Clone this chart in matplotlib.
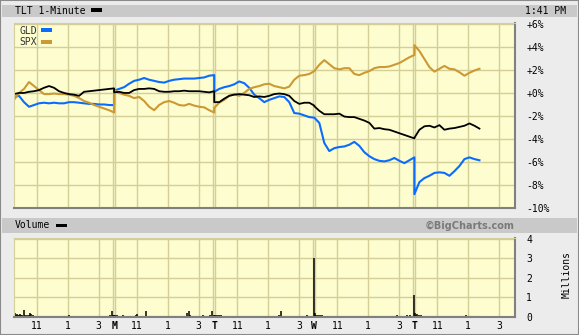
import numpy as np
import matplotlib.pyplot as plt
from matplotlib.patches import Rectangle

# percent change, sampled every 19.5 trading minutes, last value of each full day = close
tlt_fri = [-0.1, 0.0, 0.0, 0.1, 0.15, 0.25, 0.45, 0.6, 0.45, 0.15, 0.0, -0.1, -0.15, -0.25, 0.1, 0.15, 0.2, 0.25, 0.3, 0.35, 0.4]
gld_fri = [-0.35, -0.25, -0.8, -1.2, -1.05, -0.9, -0.85, -0.9, -0.85, -0.9, -0.9, -0.8, -0.8, -0.85, -0.9, -0.95, -0.95, -1.0, -1.0, -1.05, -1.05]
spx_fri = [-0.6, 0.0, 0.35, 0.95, 0.6, 0.25, -0.1, -0.1, -0.05, -0.1, -0.1, -0.15, -0.25, -0.45, -0.7, -0.85, -1.05, -1.2, -1.35, -1.5, -1.7]

tlt_mon = [0.05, 0.1, 0.0, 0.0, 0.25, 0.35, 0.35, 0.4, 0.35, 0.15, 0.1, 0.1, 0.15, 0.15, 0.2, 0.15, 0.15, 0.15, 0.1, 0.05, 0.15]
gld_mon = [0.2, 0.35, 0.5, 0.8, 1.05, 1.15, 1.3, 1.15, 1.05, 0.95, 0.9, 1.05, 1.15, 1.2, 1.25, 1.25, 1.25, 1.3, 1.35, 1.5, 1.55]
spx_mon = [0.25, 0.0, -0.15, -0.25, -0.45, -0.35, -0.7, -1.2, -1.5, -1.05, -0.8, -0.7, -0.85, -1.05, -1.1, -0.95, -1.1, -1.2, -1.25, -1.5, -1.7]

tlt_tue = [-0.8, -0.8, -0.5, -0.25, -0.15, -0.1, -0.15, -0.2, -0.35, -0.3, -0.35, -0.25, -0.1, -0.05, -0.1, -0.25, -0.7, -0.95, -0.85, -0.85, -1.1]
gld_tue = [0.1, 0.35, 0.5, 0.6, 0.75, 1.0, 0.85, 0.45, -0.15, -0.45, -0.8, -0.6, -0.45, -0.3, -0.35, -0.8, -1.75, -1.8, -1.95, -2.1, -2.15]
spx_tue = [-1.3, -0.85, -0.6, -0.25, -0.1, -0.25, 0.0, 0.35, 0.5, 0.6, 0.75, 0.8, 0.6, 0.5, 0.4, 0.55, 1.15, 1.5, 1.55, 1.65, 1.9]

tlt_wed = [-1.15, -1.55, -1.85, -1.85, -1.85, -1.8, -2.05, -2.1, -2.1, -2.25, -2.4, -2.6, -3.1, -3.05, -3.15, -3.2, -3.35, -3.5, -3.65, -3.8, -3.95]
gld_wed = [-2.15, -2.6, -4.35, -5.05, -4.8, -4.7, -4.65, -4.5, -4.25, -4.6, -5.15, -5.5, -5.75, -5.9, -5.95, -5.85, -5.65, -5.9, -6.1, -5.85, -5.6]
spx_wed = [1.9, 2.45, 2.85, 2.5, 2.15, 2.05, 2.15, 2.15, 1.65, 1.55, 1.75, 1.9, 2.15, 2.25, 2.25, 2.3, 2.45, 2.6, 2.85, 3.1, 3.3]

tlt_thu = [-3.9, -3.2, -2.9, -2.85, -3.0, -2.8, -3.2, -3.1, -3.05, -2.95, -2.85, -2.65, -2.85, -3.1]
gld_thu = [-8.8, -7.75, -7.4, -7.2, -6.95, -6.9, -6.95, -7.2, -6.8, -6.35, -5.75, -5.6, -5.75, -5.85]
spx_thu = [4.15, 3.65, 2.95, 2.25, 1.85, 2.1, 2.35, 2.1, 2.05, 1.8, 1.5, 1.75, 1.95, 2.1]

# volume (millions) at trading minute since Friday open
vol_min = [0, 4, 8, 12, 16, 20, 23, 27, 31, 39, 43, 51, 59, 62, 66, 74, 82, 94, 105, 117, 129, 140, 160, 215, 234, 257,
           300, 308, 320, 335, 347, 367, 374, 382, 386,
           390, 394, 402, 410, 417, 425, 433, 441, 456, 468, 476, 480, 488, 503, 515, 527, 542, 569, 616, 651, 671, 675,
           683, 686, 710, 737, 753, 764, 772,
           780, 784, 792, 800, 807, 815, 827, 839, 850, 866, 885, 932, 952, 971, 998, 1022, 1034, 1041, 1049, 1080,
           1108, 1131, 1143, 1169,
           1174, 1178, 1186, 1193, 1201, 1209, 1221, 1236, 1260, 1295, 1349, 1369, 1388, 1412, 1427, 1455, 1494, 1509,
           1521, 1533, 1544, 1559,
           1561, 1565, 1571, 1579, 1587, 1595, 1606, 1618, 1630, 1645, 1665, 1684, 1708, 1739, 1751, 1762, 1774, 1794]
vol_val = [0.15, 0.2, 0.1, 0.15, 0.12, 0.1, 0.15, 0.1, 0.12, 0.38, 0.12, 0.1, 0.08, 0.22, 0.15, 0.08, 0.06, 0.05, 0.05, 0.04, 0.04, 0.03, 0.03, 0.1, 0.03, 0.02,
           0.05, 0.04, 0.04, 0.05, 0.06, 0.05, 0.08, 0.33, 0.12,
           0.1, 0.12, 0.08, 0.06, 0.07, 0.1, 0.06, 0.05, 0.05, 0.06, 0.08, 0.17, 0.06, 0.04, 0.33, 0.05, 0.06, 0.03, 0.03, 0.02, 0.04, 0.23,
           0.33, 0.08, 0.04, 0.08, 0.06, 0.08, 0.33,
           0.12, 0.1, 0.08, 0.1, 0.08, 0.07, 0.06, 0.05, 0.04, 0.05, 0.03, 0.03, 0.03, 0.03, 0.03, 0.04, 0.1, 0.33, 0.05, 0.04,
           0.05, 0.06, 0.12, 3.0,
           0.2, 0.12, 0.1, 0.12, 0.08, 0.06, 0.06, 0.04, 0.04, 0.03, 0.05, 0.04, 0.04, 0.04, 0.03, 0.05, 0.1, 0.05,
           0.06, 0.08, 0.1, 1.12,
           0.2, 0.12, 0.15, 0.1, 0.08, 0.07, 0.06, 0.06, 0.05, 0.04, 0.04, 0.03, 0.03, 0.05, 0.07, 0.08, 0.05, 0.03]

day_letters = ['M', 'T', 'W', 'T']
pct_ticks = [6, 4, 2, 0, -2, -4, -6, -8, -10]

# time axis
step = 19.5
full_day = np.append(np.arange(20) * step, 390)
t = np.concatenate([full_day + 390 * d for d in range(4)] + [np.arange(len(tlt_thu)) * step + 1560])
tlt = np.array(tlt_fri + tlt_mon + tlt_tue + tlt_wed + tlt_thu)
gld = np.array(gld_fri + gld_mon + gld_tue + gld_wed + gld_thu)
spx = np.array(spx_fri + spx_mon + spx_tue + spx_wed + spx_thu)

W, H = 579, 335
def box(x0, y0, x1, y1):
    return [x0 / W, 1 - y1 / H, (x1 - x0) / W, (y1 - y0) / H]

bg = '#fdfdd0'
gridc = '#d3cf96'
outer = '#ececec'
bar = '#c9c9c9'
mono = 'DejaVu Sans Mono'

fig = plt.figure(figsize=(W / 100, H / 100), dpi=100, facecolor=outer)
fig.patches.append(Rectangle((0, 0), 1, 1, transform=fig.transFigure, fill=False, ec='#8a8a8a', lw=1.5))
# header bars
for y0, y1 in [(5, 17), (218, 233)]:
    fig.patches.append(Rectangle((2 / W, 1 - y1 / H), (W - 4) / W, (y1 - y0) / H,
                                 transform=fig.transFigure, fc=bar, ec='none'))
fig.text(15 / W, 1 - 11 / H, 'TLT 1-Minute', family=mono, fontsize=7, va='center')
fig.patches.append(Rectangle((91 / W, 1 - 12 / H), 11 / W, 3.5 / H, transform=fig.transFigure, fc='black'))
fig.text(566 / W, 1 - 11 / H, '1:41 PM', family=mono, fontsize=7, va='center', ha='right')
fig.text(15 / W, 1 - 225.5 / H, 'Volume', family=mono, fontsize=7, va='center')
fig.patches.append(Rectangle((56 / W, 1 - 227 / H), 11 / W, 3.5 / H, transform=fig.transFigure, fc='black'))
fig.text(515 / W, 1 - 225.5 / H, '©BigCharts.com', fontsize=7, weight='bold', color='#7a7a7a', va='center', ha='right')

ax = fig.add_axes(box(14, 23, 515, 208))
axv = fig.add_axes(box(14, 238, 515, 317))

grid_min = [m + 390 * d for d in range(5) for m in (90, 210, 330)]
for a in (ax, axv):
    a.set_facecolor(bg)
    a.set_xlim(0, 1952)
    for m in grid_min:
        a.axvline(m, color=gridc, lw=1, zorder=0)
    for d in range(1, 5):
        a.axvline(390 * d - 4, color=gridc, lw=1, zorder=0)
        a.axvline(390 * d + 4, color=gridc, lw=1, zorder=0)
    for s in ('left', 'top'):
        a.spines[s].set_color(gridc)
    for s in ('right', 'bottom'):
        a.spines[s].set_color('#808080')
        a.spines[s].set_linewidth(1.5)
    a.tick_params(length=0)

ax.set_ylim(-10, 6.08)
for v in pct_ticks:
    ax.axhline(v, color=gridc, lw=1, zorder=0)
ax.yaxis.tick_right()
ax.set_yticks(pct_ticks)
ax.set_yticklabels([('+%d%%' % v) if v >= 0 else ('%d%%' % v) for v in pct_ticks],
                   family=mono, fontsize=7, ha='left')
ax.tick_params(axis='y', pad=8)
ax.set_xticks([])

ax.plot(t, gld, color='#0a6cff', lw=1.5)
ax.plot(t, spx, color='#cc9933', lw=1.5)
ax.plot(t, tlt, color='black', lw=1.3)

# legend inside plot
fig.text(19 / W, 1 - 30.5 / H, 'GLD', family=mono, fontsize=7, va='center', color='#333333')
fig.patches.append(Rectangle((41 / W, 1 - 32 / H), 11 / W, 3.5 / H, transform=fig.transFigure, fc='#0a6cff'))
fig.text(19 / W, 1 - 42 / H, 'SPX', family=mono, fontsize=7, va='center', color='#333333')
fig.patches.append(Rectangle((41 / W, 1 - 43.5 / H), 11 / W, 3.5 / H, transform=fig.transFigure, fc='#cc9933'))

# volume panel
axv.set_ylim(0, 4.05)
for v in (1, 2, 3, 4):
    axv.axhline(v, color=gridc, lw=1, zorder=0)
axv.vlines(vol_min, 0, vol_val, color='black', lw=1.1)
axv.plot([t[0], t[-1]], [0.02, 0.02], color='black', lw=2.2)
axv.yaxis.tick_right()
axv.set_yticks([0, 1, 2, 3, 4])
axv.set_yticklabels(['0', '1', '2', '3', '4'], family=mono, fontsize=7, ha='left')
axv.tick_params(axis='y', pad=8)
fig.text(567 / W, 1 - 275 / H, 'Millions', family=mono, fontsize=7, rotation=90, va='center', ha='center')

xt, xl = [], []
for d in range(5):
    if d > 0:
        xt.append(390 * d)
        xl.append(day_letters[d - 1])
    for m, lab in zip((90, 210, 330), ('11', '1', '3')):
        xt.append(m + 390 * d)
        xl.append(lab)
axv.set_xticks(xt)
axv.set_xticklabels(xl, family=mono, fontsize=7)
axv.tick_params(axis='x', pad=3)
for lab in axv.get_xticklabels():
    if lab.get_text() in day_letters:
        lab.set_fontweight('bold')

fig.savefig('out.png', dpi=100, facecolor=outer)
